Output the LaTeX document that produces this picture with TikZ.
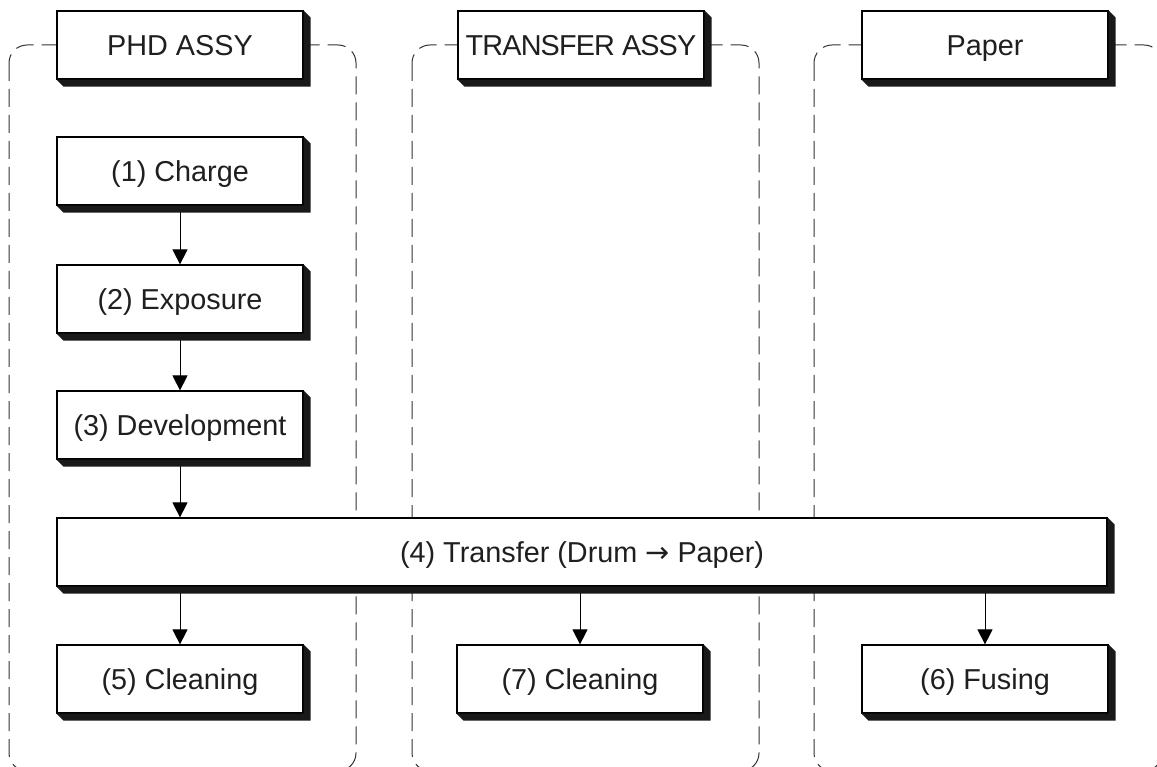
\documentclass[tikz,border=0pt]{standalone}
\usepackage{fontspec}
\setmainfont{Liberation Sans}
\newfontfamily\arrowfont{DejaVu Sans}
\usetikzlibrary{arrows.meta}
\tikzset{
  box/.style={draw, fill=white, line width=1.2pt, minimum width=246pt, minimum height=68pt,
    inner sep=0pt, text height=20.4pt, text depth=0pt,
    font=\fontsize{28.8}{34}\selectfont, text=black!88},
  lane/.style={draw=black!80, line width=1pt, dash pattern=on 18pt off 8pt, rounded corners=18pt},
  arr/.style={line width=1pt, -{Triangle[width=15pt,length=15pt]}},
  shad/.style={fill=black!90}
}
\newcommand\shadowof[1]{%
  \fill[shad] (#1.north east) -- ++(7,7) |- ([shift={(7,7)}]#1.south west) -- (#1.south west) -- (#1.south east) -- cycle;}
\begin{document}
\begin{tikzpicture}[x=1pt,y=-1pt]
\path[use as bounding box, clip] (0,0) rectangle (1157,767);
\fill[white] (0,0) rectangle (1157,767);
% swimlanes
\draw[lane] (9,45) rectangle (356,771);
\draw[lane] (412,45) rectangle (759,771);
\draw[lane] (814,45) rectangle (1162,771);
% titles
\node[box] (t1) at (180,45) {PHD ASSY};
\node[box] (t2) at (581,45) {\addfontfeatures{LetterSpace=-3}TRANSFER ASSY};
\node[box] (t3) at (985,45) {Paper};
% steps
\node[box] (s1) at (180,171) {(1) Charge};
\node[box] (s2) at (180,299) {(2) Exposure};
\node[box] (s3) at (180,425) {(3) Development};
\node[box, minimum width=1050pt] (s4) at (582,552) {(4) Transfer (Drum {\arrowfont →} Paper)};
\node[box] (s5) at (180,679) {(5) Cleaning};
\node[box] (s7) at (580,679) {(7) Cleaning};
\node[box] (s6) at (985,679) {(6) Fusing};
% arrows
\draw[arr] (s1.south) -- (s2.north);
\draw[arr] (s2.south) -- (s3.north);
\draw[arr] (s3.south) -- (s3.south |- s4.north);
\draw[arr] (s4.south -| s5.north) -- (s5.north);
\draw[arr] (s4.south -| s7.north) -- (s7.north);
\draw[arr] (s4.south -| s6.north) -- (s6.north);
% shadows
\foreach \n in {t1,t2,t3,s1,s2,s3,s4,s5,s6,s7} {\shadowof{\n}}
\end{tikzpicture}
\end{document}
